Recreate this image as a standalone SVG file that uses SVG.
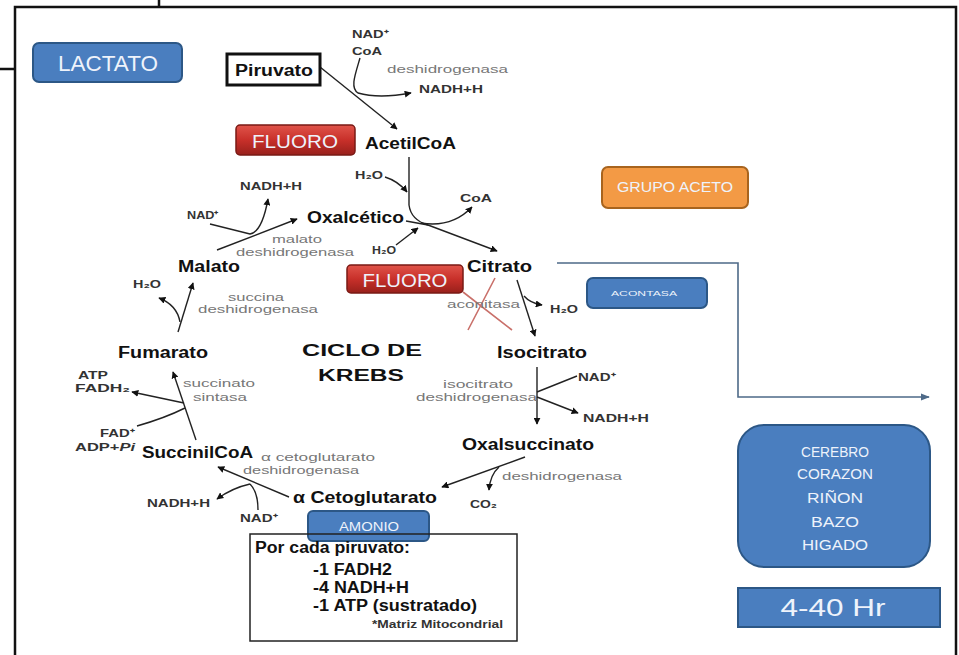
<svg xmlns="http://www.w3.org/2000/svg" width="959" height="655" viewBox="0 0 959 655">
<style>
.b{font-family:"Liberation Sans",Arial,sans-serif;font-weight:bold;fill:#111;font-size:16px}
.s{font-family:"Liberation Sans",Arial,sans-serif;font-weight:bold;fill:#333;font-size:11px}
.g{font-family:"Liberation Sans",Arial,sans-serif;fill:#777;font-size:11px}
.w{font-family:"Liberation Sans",Arial,sans-serif;fill:#eef3fb;text-anchor:middle}
.frame{stroke:#111;stroke-width:2.5;fill:none}
.ar{stroke:#222;stroke-width:1.4;fill:none}
.blue{fill:#4a7ebf;stroke:#2c5786;stroke-width:2}
.red{fill:url(#rg);stroke:#7a1a15;stroke-width:1.5}
</style>
<defs>
<linearGradient id="rg" x1="0" y1="0" x2="0" y2="1">
<stop offset="0" stop-color="#e0544a"/><stop offset="0.5" stop-color="#c8302a"/><stop offset="1" stop-color="#98201b"/>
</linearGradient>
<marker id="ah" viewBox="0 0 10 10" refX="9" refY="5" markerWidth="7" markerHeight="7" markerUnits="userSpaceOnUse" orient="auto">
<path d="M0,0 L10,5 L0,10 z" fill="#111"/>
</marker>
<marker id="ab" viewBox="0 0 10 10" refX="9" refY="5" markerWidth="9" markerHeight="9" markerUnits="userSpaceOnUse" orient="auto">
<path d="M0,1 L10,5 L0,9 z" fill="#4e6a88"/>
</marker>
</defs>
<rect width="959" height="655" fill="#fff"/>
<g id="frame">
<path class="frame" d="M15,655 V7 H956 V655"/>
<path class="frame" d="M159,0 V7 M0,69 H15"/>
</g>

<g id="connectors">
<path class="ar" d="M320,67 L397,129" marker-end="url(#ah)"/>
<path class="ar" d="M360,58 C355,75 350,88 358,93 C375,98 395,96 411,93" marker-end="url(#ah)"/>
<path class="ar" d="M409,157 L409,205 Q411,220 428,225 L497,251" marker-end="url(#ah)"/>
<path class="ar" d="M406,221 L428,225"/>
<path class="ar" d="M385,177 Q398,181 407,192" marker-end="url(#ah)"/>
<path class="ar" d="M421,223 Q452,228 472,207" marker-end="url(#ah)"/>
<path class="ar" d="M396,245 L418,228" marker-end="url(#ah)"/>
<path class="ar" d="M217,250 L297,219" marker-end="url(#ah)"/>
<path class="ar" d="M210,224 L250,234 Q262,232 268,199" marker-end="url(#ah)"/>
<path class="ar" d="M178,332 L193,283" marker-end="url(#ah)"/>
<path class="ar" d="M180,322 Q177,305 159,298" marker-end="url(#ah)"/>
<path class="ar" d="M196,440 L173,372" marker-end="url(#ah)"/>
<path class="ar" d="M184,403 L132,392" marker-end="url(#ah)"/>
<path class="ar" d="M137,426 Q165,418 185,408"/>
<path class="ar" d="M289,497 L218,467" marker-end="url(#ah)"/>
<path class="ar" d="M250,484 Q232,488 217,499" marker-end="url(#ah)"/>
<path class="ar" d="M258,510 Q258,492 250,484"/>
<path class="ar" d="M525,457 L442,487" marker-end="url(#ah)"/>
<path class="ar" d="M499,467 Q490,475 489,490" marker-end="url(#ah)"/>
<path class="ar" d="M537,367 L537,424" marker-end="url(#ah)"/>
<path class="ar" d="M577,376 L537,392"/>
<path class="ar" d="M537,397 L578,413" marker-end="url(#ah)"/>
<path class="ar" d="M517,280 L535,336" marker-end="url(#ah)"/>
<path class="ar" d="M524,296 Q530,303 542,305" marker-end="url(#ah)"/>
<path d="M468,330 L495,278 M463,292 L512,330" stroke="#c9706a" stroke-width="1.6" fill="none"/>
<path d="M557,263 H738 V397 H929" stroke="#4e6a88" stroke-width="1.6" fill="none" marker-end="url(#ab)"/>
</g>

<g id="lactato"><rect class="blue" x="33" y="43" width="149" height="39" rx="6"/><text class="w" x="108" y="71" font-size="22" textLength="100" lengthAdjust="spacingAndGlyphs">LACTATO</text></g>
<g id="piruvato"><rect x="227" y="54" width="93" height="31" fill="#fff" stroke="#111" stroke-width="3"/><text class="b" x="235" y="76" textLength="78" lengthAdjust="spacingAndGlyphs">Piruvato</text></g>
<g id="fluoro1"><rect class="red" x="236" y="125" width="119" height="30" rx="4"/><text class="w" x="295" y="148" font-size="19" textLength="86" lengthAdjust="spacingAndGlyphs">FLUORO</text></g>
<g id="fluoro2"><rect class="red" x="347" y="265" width="116" height="28" rx="4"/><text class="w" x="405" y="287" font-size="19" textLength="85" lengthAdjust="spacingAndGlyphs">FLUORO</text></g>
<g id="grupoaceto"><rect x="602" y="167" width="146" height="41" rx="6" fill="#f39a45" stroke="#a8641e" stroke-width="2"/><text class="w" x="675" y="192" font-size="14" textLength="116" lengthAdjust="spacingAndGlyphs">GRUPO ACETO</text></g>
<g id="aconitasa-box"><rect class="blue" x="587" y="278" width="120" height="30" rx="6"/><text class="w" x="644" y="296" font-size="8" textLength="66" lengthAdjust="spacingAndGlyphs">ACONTASA</text></g>
<g id="amonio"><rect class="blue" x="308" y="511" width="121" height="30" rx="5"/><text class="w" x="369" y="531" font-size="12" textLength="60" lengthAdjust="spacingAndGlyphs">AMONIO</text></g>
<g id="organos"><rect class="blue" x="738" y="425" width="192" height="142" rx="26"/>
<text class="w" x="835" y="457" font-size="15" textLength="68" lengthAdjust="spacingAndGlyphs">CEREBRO</text>
<text class="w" x="835" y="479" font-size="15" textLength="76" lengthAdjust="spacingAndGlyphs">CORAZON</text>
<text class="w" x="835" y="503" font-size="15" textLength="56" lengthAdjust="spacingAndGlyphs">RIÑON</text>
<text class="w" x="835" y="527" font-size="15" textLength="48" lengthAdjust="spacingAndGlyphs">BAZO</text>
<text class="w" x="835" y="550" font-size="15" textLength="66" lengthAdjust="spacingAndGlyphs">HIGADO</text></g>
<g id="horas"><rect class="blue" x="738" y="588" width="202" height="39"/><text class="w" x="833" y="616" font-size="24" textLength="105" lengthAdjust="spacingAndGlyphs">4-40 Hr</text></g>

<g id="metabolitos">
<text class="b" x="365" y="149" font-size="17" textLength="91" lengthAdjust="spacingAndGlyphs">AcetilCoA</text>
<text class="b" x="307" y="223" textLength="97" lengthAdjust="spacingAndGlyphs">Oxalcético</text>
<text class="b" x="467" y="272" textLength="65" lengthAdjust="spacingAndGlyphs">Citrato</text>
<text class="b" x="178" y="272" textLength="62" lengthAdjust="spacingAndGlyphs">Malato</text>
<text class="b" x="497" y="358" textLength="90" lengthAdjust="spacingAndGlyphs">Isocitrato</text>
<text class="b" x="118" y="358" textLength="90" lengthAdjust="spacingAndGlyphs">Fumarato</text>
<text class="b" x="462" y="450" textLength="132" lengthAdjust="spacingAndGlyphs">Oxalsuccinato</text>
<text class="b" x="142" y="458" textLength="111" lengthAdjust="spacingAndGlyphs">SuccinilCoA</text>
<text class="b" x="293" y="503" textLength="144" lengthAdjust="spacingAndGlyphs">α Cetoglutarato</text>
<text class="b" x="302" y="356" font-size="20" textLength="120" lengthAdjust="spacingAndGlyphs">CICLO DE</text>
<text class="b" x="318" y="381" font-size="20" textLength="86" lengthAdjust="spacingAndGlyphs">KREBS</text>
</g>

<g id="cofactores">
<text class="s" x="352" y="38" textLength="37" lengthAdjust="spacingAndGlyphs">NAD⁺</text>
<text class="s" x="352" y="55" textLength="30" lengthAdjust="spacingAndGlyphs">CoA</text>
<text class="s" x="419" y="93" textLength="64" lengthAdjust="spacingAndGlyphs">NADH+H</text>
<text class="s" x="355" y="179" textLength="28" lengthAdjust="spacingAndGlyphs">H₂O</text>
<text class="s" x="460" y="202" textLength="32" lengthAdjust="spacingAndGlyphs">CoA</text>
<text class="s" x="372" y="254" textLength="24" lengthAdjust="spacingAndGlyphs">H₂O</text>
<text class="s" x="240" y="190" textLength="62" lengthAdjust="spacingAndGlyphs">NADH+H</text>
<text class="s" x="187" y="219" textLength="32" lengthAdjust="spacingAndGlyphs">NAD⁺</text>
<text class="s" x="133" y="288" textLength="28" lengthAdjust="spacingAndGlyphs">H₂O</text>
<text class="s" x="550" y="313" textLength="28" lengthAdjust="spacingAndGlyphs">H₂O</text>
<text class="s" x="578" y="381" textLength="38" lengthAdjust="spacingAndGlyphs">NAD⁺</text>
<text class="s" x="583" y="422" textLength="66" lengthAdjust="spacingAndGlyphs">NADH+H</text>
<text class="s" x="470" y="508" textLength="27" lengthAdjust="spacingAndGlyphs">CO₂</text>
<text class="s" x="78" y="379" textLength="30" lengthAdjust="spacingAndGlyphs">ATP</text>
<text class="s" x="75" y="392" textLength="55" lengthAdjust="spacingAndGlyphs">FADH₂</text>
<text class="s" x="100" y="437" textLength="35" lengthAdjust="spacingAndGlyphs">FAD⁺</text>
<text class="s" x="75" y="451" textLength="60" lengthAdjust="spacingAndGlyphs">ADP+<tspan font-style="italic">Pi</tspan></text>
<text class="s" x="147" y="507" textLength="63" lengthAdjust="spacingAndGlyphs">NADH+H</text>
<text class="s" x="240" y="522" textLength="38" lengthAdjust="spacingAndGlyphs">NAD⁺</text>
</g>

<g id="enzimas">
<text class="g" x="387" y="73" textLength="121" lengthAdjust="spacingAndGlyphs">deshidrogenasa</text>
<text class="g" x="272" y="243" textLength="50" lengthAdjust="spacingAndGlyphs">malato</text>
<text class="g" x="236" y="256" textLength="118" lengthAdjust="spacingAndGlyphs">deshidrogenasa</text>
<text class="g" x="228" y="301" textLength="56" lengthAdjust="spacingAndGlyphs">succina</text>
<text class="g" x="198" y="313" textLength="120" lengthAdjust="spacingAndGlyphs">deshidrogenasa</text>
<text class="g" x="447" y="308" textLength="73" lengthAdjust="spacingAndGlyphs">aconitasa</text>
<text class="g" x="443" y="388" textLength="70" lengthAdjust="spacingAndGlyphs">isocitrato</text>
<text class="g" x="416" y="401" textLength="121" lengthAdjust="spacingAndGlyphs">deshidrogenasa</text>
<text class="g" x="502" y="480" textLength="120" lengthAdjust="spacingAndGlyphs">deshidrogenasa</text>
<text class="g" x="261" y="461" textLength="114" lengthAdjust="spacingAndGlyphs">α cetoglutarato</text>
<text class="g" x="243" y="474" textLength="116" lengthAdjust="spacingAndGlyphs">deshidrogenasa</text>
<text class="g" x="183" y="387" textLength="72" lengthAdjust="spacingAndGlyphs">succinato</text>
<text class="g" x="193" y="401" textLength="54" lengthAdjust="spacingAndGlyphs">sintasa</text>
</g>

<g id="resumen">
<rect x="250" y="534" width="267" height="107" fill="none" stroke="#222" stroke-width="1.5"/>
<text class="b" x="255" y="553" font-size="13" textLength="155" lengthAdjust="spacingAndGlyphs">Por cada piruvato:</text>
<text class="b" x="313" y="575" font-size="13" textLength="79" lengthAdjust="spacingAndGlyphs">-1 FADH2</text>
<text class="b" x="313" y="593" font-size="13" textLength="96" lengthAdjust="spacingAndGlyphs">-4 NADH+H</text>
<text class="b" x="313" y="611" font-size="13" textLength="164" lengthAdjust="spacingAndGlyphs">-1 ATP (sustratado)</text>
<text class="s" x="372" y="628" font-size="8" textLength="131" lengthAdjust="spacingAndGlyphs">*Matriz Mitocondrial</text>
</g>
</svg>
